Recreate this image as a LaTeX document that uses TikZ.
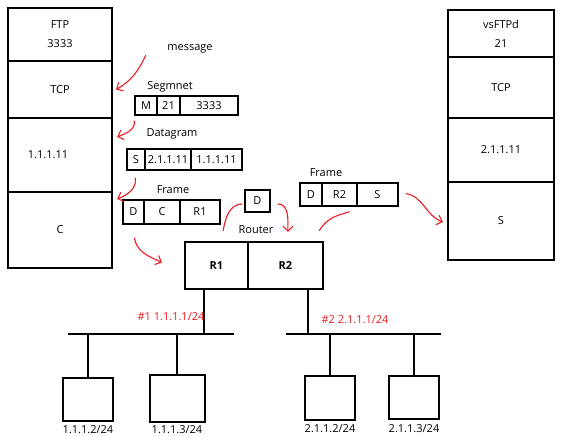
\documentclass[tikz,border=0pt]{standalone}
\usepackage{fontspec}
\setmainfont{Open Sans}
\definecolor{paintred}{RGB}{237,28,36}
\usetikzlibrary{arrows.meta}

\begin{document}
\begin{tikzpicture}[x=1pt,y=-1pt,
  font=\fontsize{11}{13}\selectfont,
  layer/.style={draw,line width=2.2pt,align=center,inner sep=0pt},
  field/.style={draw,line width=1.5pt,inner sep=0pt},
  host/.style={draw,line width=2pt,inner sep=0pt},
  wire/.style={line width=1.8pt},
  hop/.style={paintred,line width=1.1pt},
  hoparr/.style={hop,-{Straight Barb[length=5pt,width=10pt]}},
  netlbl/.style={text=paintred}]
  \useasboundingbox (0,0) rectangle (572,436);
  % sender stack
  \node[layer,minimum width=104pt,minimum height=53pt] (ftp) at (60,34.5) {FTP\\[6pt]3333};
  \node[layer,minimum width=104pt,minimum height=57pt] (tcpl) at (60,89.5) {TCP};
  \node[layer,minimum width=104pt,minimum height=74pt] (ipl) at (60,155) {\hspace*{-24pt}1.1.1.11};
  \node[layer,minimum width=104pt,minimum height=76pt] (linkl) at (60,230) {C};
  % receiver stack
  \node[layer,minimum width=106pt,minimum height=47pt] (ftpr) at (501,33.5) {vsFTPd\\[6pt]21};
  \node[layer,minimum width=106pt,minimum height=61pt] (tcpr) at (501,87.5) {TCP};
  \node[layer,minimum width=106pt,minimum height=64pt] (ipr) at (501,150) {2.1.1.11};
  \node[layer,minimum width=106pt,minimum height=78pt] (linkr) at (501,221) {S};
  % segment
  \node (msg) at (190,49) {message};
  \node (seglbl) at (170,87) {Segmnet};
  \node[field,minimum width=22pt,minimum height=19pt] (segm) at (146,105.5) {M};
  \node[field,minimum width=23pt,minimum height=19pt] (segd) at (168.5,105.5) {21};
  \node[field,minimum width=58pt,minimum height=19pt] (segs) at (209,105.5) {3333};
  % datagram
  \node (dglbl) at (172,134) {Datagram};
  \node[field,minimum width=18pt,minimum height=21pt] (dgs) at (136,159.5) {S};
  \node[field,minimum width=46pt,minimum height=21pt] (dgdst) at (168,159.5) {2.1.1.11};
  \node[field,minimum width=51pt,minimum height=21pt] (dgsrc) at (216.5,159.5) {1.1.1.11};
  % frame, first hop
  \node (frlbl) at (173,190) {Frame};
  \node[field,minimum width=21pt,minimum height=24pt] (frd) at (133.5,212) {D};
  \node[field,minimum width=36pt,minimum height=24pt] (frsrc) at (162,212) {C};
  \node[field,minimum width=40pt,minimum height=24pt] (frdst) at (200,212) {R1};
  % router
  \node (rtlbl) at (256,230) {Router};
  \node[layer,minimum width=63pt,minimum height=47pt,font=\fontsize{11}{13}\selectfont\bfseries] (r1) at (216.5,265.5) {R1};
  \node[layer,minimum width=75pt,minimum height=47pt,font=\fontsize{11}{13}\selectfont\bfseries] (r2) at (285.5,265.5) {R2};
  \node[field,minimum width=25pt,minimum height=22pt] (dbox) at (257.5,201) {D};
  % frame, second hop
  \node (fr2lbl) at (326,173) {Frame};
  \node[field,minimum width=22pt,minimum height=23pt] (fr2d) at (311,194.5) {D};
  \node[field,minimum width=35pt,minimum height=23pt] (fr2src) at (339.5,194.5) {R2};
  \node[field,minimum width=41pt,minimum height=23pt] (fr2dst) at (377.5,194.5) {S};
  % red hops
  \draw[hoparr] ([shift={(-18,6)}]msg.west) to[out=-115,in=30] ([xshift=3pt]tcpl.east);
  \draw[hoparr] ([shift={(0,5)}]segm.south west) to[out=-80,in=20] ([shift={(4,20)}]ipl.north east);
  \draw[hoparr] ([shift={(9,7)}]dgs.south west) to[out=-80,in=20] ([shift={(4,8)}]linkl.north east);
  \draw[hoparr] ([shift={(12,13)}]frd.south west) to[out=-80,in=155] ([shift={(-22,-3)}]r1.west);
  \draw[hop] ([shift={(-26,-10)}]r1.north east) to[out=80,in=180] ([shift={(-2,3)}]dbox.west);
  \draw[hoparr] ([shift={(7,3)}]dbox.east) to[out=0,in=90] ([shift={(41,-9)}]r2.north west);
  \draw[hop] ([shift={(-5,-10)}]r2.north east) to[out=60,in=195] ([shift={(-8,5)}]fr2src.south east);
  \draw[hoparr] ([shift={(7,-1)}]fr2dst.east) to[out=-10,in=160] ([shift={(-4,1)}]linkr.west);
  % networks
  \coordinate (bus1a) at (68,334);
  \coordinate (bus1b) at (234,334);
  \coordinate (bus2a) at (286,334);
  \coordinate (bus2b) at (441,334);
  \coordinate (tap1) at (204,334);
  \coordinate (tap2) at (308,334);
  \draw[wire] (bus1a) -- (bus1b);
  \draw[wire] (bus2a) -- (bus2b);
  \draw[wire] (tap1 |- r1.south) -- (tap1);
  \draw[wire] (tap2 |- r2.south) -- (tap2);
  \node[netlbl] (if1) at (171,317) {\#1 1.1.1.1/24};
  \node[netlbl] (if2) at (355,320) {\#2 2.1.1.1/24};
  \node[host,minimum width=50pt,minimum height=43pt,label={[inner sep=1pt,label distance=2pt]below:1.1.1.2/24}] (h1) at (88,399.5) {};
  \node[host,minimum width=55pt,minimum height=47pt,label={[inner sep=1pt,label distance=1pt]below:1.1.1.3/24}] (h2) at (177,398.5) {};
  \node[host,minimum width=50pt,minimum height=44pt,label={[inner sep=1pt,label distance=2pt]below:2.1.1.2/24}] (h3) at (330,398) {};
  \node[host,minimum width=50pt,minimum height=43pt,label={[inner sep=1pt,label distance=3pt]below:2.1.1.3/24}] (h4) at (414,397.5) {};
  \draw[wire] (h1.north) -- (h1.north |- bus1a);
  \draw[wire] (h2.north) -- (h2.north |- bus1a);
  \draw[wire] (h3.north) -- (h3.north |- bus2a);
  \draw[wire] (h4.north) -- (h4.north |- bus2a);
\end{tikzpicture}
\end{document}
